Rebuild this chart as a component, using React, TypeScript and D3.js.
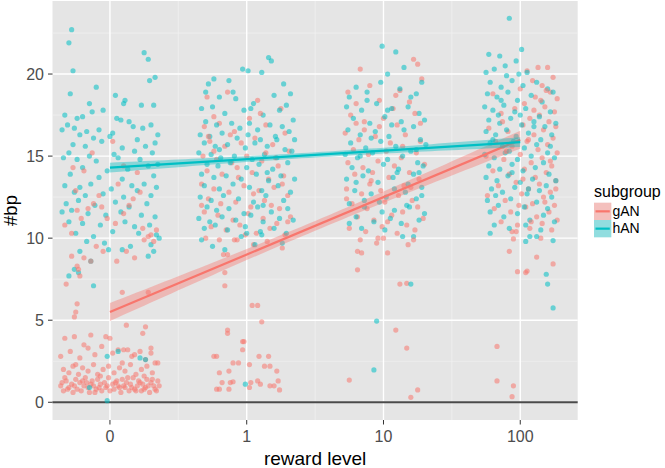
import React from 'react';
import * as d3 from 'd3';

const categories = ['0', '1', '10', '100'];
const yTicks = [0, 5, 10, 15, 20];
const yMinor = [2.5, 7.5, 12.5, 17.5, 22.5];
const xMinor = [0.5, 1.5, 2.5];
const subgroups = ['gAN', 'hAN'];
const colors = ['#F8766D', '#00BFC4'];

// jittered points, flat pairs: (jitter offset in 1/100 of a category step, #bp)
const gAN_0 = [
  -36, 1.0, -34, 0.7, -32, 1.3, -30, 0.9, -28, 1.1, -27, 0.6, -25, 1.4, -24, 0.8, -22, 1.2, -21, 0.7, -19, 1.0, -18, 1.5,
  -16, 0.9, -15, 0.6, -13, 1.3, -12, 1.0, -10, 0.8, -9, 1.4, -7, 1.1, -6, 0.7, -4, 1.2, -3, 0.9, -1, 1.5, 0, 0.7, 2, 1.1,
  3, 0.8, 5, 1.3, 6, 1.0, 8, 0.6, 9, 1.4, 11, 0.9, 12, 1.2, 14, 0.7, 15, 1.1, 17, 1.5, 18, 0.8, 20, 1.0, 21, 1.3, 23, 0.7,
  24, 1.1, 26, 0.9, 27, 1.4, 29, 0.6, 30, 1.2, 32, 1.0, 33, 0.8, 35, 1.3, 36, 1.0, -35, 1.2, -31, 0.8, -26, 1.0, -20, 1.3,
  -14, 1.1, -8, 0.9, -2, 1.0, 4, 1.2, 10, 1.0, 16, 0.9, 22, 1.2, 28, 1.0, 34, 0.7, -33, 1.5, -17, 1.2, 7, 0.9, 19, 0.7,
  31, 1.4, -11, 0.6, 13, 1.5, 25, 0.8,
  -34, 2.0, -30, 1.8, -27, 2.2, -23, 1.7, -20, 2.1, -16, 1.9, -12, 2.3, -9, 1.7, -5, 2.0, -1, 2.2, 3, 1.8, 7, 2.1, 11, 1.9,
  15, 2.3, 19, 1.7, 23, 2.0, 27, 2.2, 31, 1.8, 35, 2.4, -25, 2.3, -7, 1.6, 9, 2.4, 25, 1.6,
  -36, 2.8, -33, 3.9, -29, 3.1, -26, 4.0, -22, 2.7, -19, 3.5, -14, 4.1, -11, 2.9, -6, 3.4, -3, 4.0, 2, 3.0, 6, 3.2, 10, 3.2,
  13, 3.2, 18, 2.9, 22, 3.1, 26, 2.6, 30, 3.0, 33, 2.4, 16, 2.8, -16, 3.3, 0, 3.9,
  -24, 6.0, -25, 5.5, -26, 5.2, 28, 6.7, 9, 6.7, 12, 4.7, 26, 4.6, 24, 4.2, 30, 3.3,
  -32, 7.2, -28, 8.9, -24, 8.3, -23, 8.1, -19, 8.8, -14, 8.6, -10, 9.5, -5, 9.2, -22, 7.7, 5, 8.6, 12, 9.2, 18, 8.8,
  25, 9.9, 28, 10.1, 32, 9.8,
  -33, 10.8, -28, 10.3, -21, 11.2, -16, 11.8, -12, 12.1, -6, 11.9, -2, 11.2, 4, 10.9, 10, 11.5, 17, 12.4, 24, 10.6,
  30, 10.2, -25, 12.9, -8, 12.6, 14, 12.0, -27, 14.3, -19, 14.1, 20, 14.0, 10, 14.4, 2, 15.9, -13, 15.2, 6, 13.3,
  -24, 11.7, 22, 12.8, 34, 10.5,
];
const hAN_0 = [
  -28, 22.7, -30, 21.9, 25, 21.3, 28, 20.9, -27, 20.2, 33, 19.8, 29, 19.6, -10, 19.2, -29, 18.8, 4, 18.7, 11, 18.4,
  -15, 18.2, 23, 18.1, 32, 18.1, 10, 18.2, -33, 17.5, -24, 17.3, -20, 17.4, -13, 17.7, -5, 17.8, 5, 17.3, 8, 17.2,
  14, 17.1, -31, 16.9, -26, 16.7, -17, 16.5, -8, 16.6, 2, 16.4, 17, 16.8, 24, 16.7, 30, 16.9, 35, 16.3, -35, 16.6,
  -22, 16.3, -12, 16.1, 0, 16.2, 20, 16.0, 33, 15.8, -27, 15.7, -18, 15.6, -6, 15.9, 9, 15.5, 26, 15.6, -30, 15.2,
  -15, 15.0, 3, 15.1, 18, 15.3, 31, 15.2, -34, 14.9, -24, 14.8, -10, 14.7, 6, 14.9, 22, 14.8, 35, 14.5, -20, 14.3,
  -2, 14.1, 13, 14.2, 28, 14.4, -29, 13.9, -8, 13.7, 9, 13.6, 32, 13.8, -33, 13.2, -22, 13.1, -14, 13.3, 1, 13.0,
  16, 13.2, 25, 13.3, 34, 13.1, -26, 12.8, -18, 12.6, -5, 12.7, 10, 12.5, 20, 12.9, 30, 12.6, -32, 12.1, -23, 12.3,
  -11, 12.0, 4, 12.2, 14, 11.9, 27, 12.1, -35, 11.6, -28, 11.7, -16, 11.5, -3, 11.4, 8, 11.6, 23, 11.4, 33, 11.3,
  -30, 11.0, -20, 10.9, -7, 10.8, 11, 11.0, 18, 10.7, 29, 10.8, -25, 10.3, -12, 10.1, 2, 10.4, 21, 10.3, 34, 10.2,
  36, 10.0, -17, 9.8, -4, 9.7, 15, 9.5, 30, 9.6, -1, 9.3, 9, 9.3, -22, 9.2, -14, 8.6, 28, 8.9, 32, 9.2, -30, 7.7,
  -23, 7.9, -12, 7.1, -26, 8.1, 6, 3.1, 22, 2.7, 26, 2.6, -15, 0.9, -2, 0.1, -2, 2.8,
];
const gAN_1 = [
  -29, 18.6, -24, 17.4, -14, 18.9, 8, 18.4, 25, 17.9, -31, 16.8, -20, 17.0, -9, 16.5, 2, 17.3, 14, 16.9, 28, 16.4,
  -27, 15.9, -16, 15.6, -4, 15.8, 6, 16.1, 19, 15.7, 31, 15.3, -32, 15.0, -22, 14.8, -11, 14.6, 0, 15.0, 11, 14.7,
  23, 14.4, -29, 14.1, -18, 13.9, -6, 13.7, 4, 14.0, 16, 13.6, 27, 13.8, -33, 13.3, -24, 13.0, -13, 12.8, -2, 13.2,
  9, 12.9, 20, 13.1, 30, 12.6, -28, 12.4, -19, 12.1, -8, 12.2, 3, 11.9, 13, 12.3, 24, 11.8, -31, 11.6, -21, 11.4,
  -10, 11.1, 1, 11.5, 12, 11.2, 22, 10.9, 32, 11.3, -26, 10.7, -15, 10.5, -5, 10.8, 7, 10.3, 17, 10.6, 28, 10.2,
  -30, 10.0, -20, 9.9, -9, 9.9, -7, 9.9, 5, 9.6, 15, 9.8, 26, 9.4, -14, 9.0, -17, 9.0, -16, 7.9, -16, 7.1, 4, 5.9,
  8, 5.9, 11, 4.9, -14, 4.4, -14, 4.2, -3, 3.7, -2, 3.7, -3, 3.2, -24, 2.8, -22, 2.8, 9, 2.8, 16, 2.8, -10, 2.4,
  -6, 2.4, 2, 2.3, 13, 2.2, 17, 2.2, -20, 1.8, -13, 1.9, 22, 1.9, -12, 1.2, -18, 1.2, 3, 1.2, 8, 1.3, 10, 1.1,
  20, 1.0, 23, 1.3, 24, 0.75, -22, 0.8, -20, 0.8, -13, 0.8, 2, 0.9, -10, 1.25, 17, 1.0, -28, 16.2, -7, 14.3, 18, 12.0,
  -24, 15.3, 10, 17.6, 26, 13.3, -1, 10.2, 21, 14.9, -12, 16.3, 30, 11.0, -33, 12.0, 5, 12.7, 14, 15.2,
];
const hAN_1 = [
  16, 21.0, 18, 20.8, -3, 20.3, 1, 20.2, 11, 20.1, -28, 19.4, -24, 19.7, -13, 19.6, 27, 19.4, 32, 18.8, -30, 18.9,
  -20, 18.6, -8, 18.5, 5, 18.2, 20, 18.7, 29, 18.1, -33, 17.9, -25, 18.0, -16, 17.6, -2, 17.8, 3, 17.9, 12, 17.5,
  24, 17.8, 34, 17.2, -30, 17.1, -22, 16.9, -11, 17.0, -5, 16.7, 8, 16.6, 17, 16.9, 26, 16.8, 31, 16.5, -34, 16.3,
  -27, 16.2, -18, 16.4, -7, 16.1, 1, 16.3, 10, 16.0, 21, 16.2, 35, 16.0, -31, 15.8, -23, 15.6, -14, 15.7, -1, 15.5,
  6, 15.8, 15, 15.6, 28, 15.4, -35, 15.2, -26, 15.1, -19, 14.9, -9, 15.0, 4, 14.8, 13, 15.1, 22, 14.9, 33, 15.3,
  -29, 14.5, -21, 14.4, -12, 14.6, 0, 14.3, 9, 14.5, 19, 14.2, 30, 14.6, -33, 13.9, -24, 13.7, -15, 13.8, -4, 13.6,
  7, 13.9, 16, 13.5, 25, 13.8, 35, 13.6, -31, 13.2, -20, 13.0, -10, 13.3, 2, 13.1, 11, 12.9, 23, 13.2, 32, 12.8,
  -34, 12.5, -26, 12.3, -17, 12.6, -6, 12.4, 5, 12.2, 14, 12.6, 27, 12.3, -29, 11.9, -22, 11.7, -13, 11.8, -2, 11.5,
  8, 11.9, 18, 11.6, 30, 11.8, -35, 11.2, -27, 11.0, -18, 11.3, -8, 11.1, 3, 11.4, 12, 11.0, 24, 11.2, 34, 11.1,
  -31, 10.6, -23, 10.8, -14, 10.5, -1, 10.7, 10, 10.4, 20, 10.6, 29, 10.3, -4, 10.1, 0, 10.3, 11, 10.2, -33, 9.9,
  6, 9.6, -25, 9.5, 26, 9.7, -16, 9.3, -1, 1.1, 15, 14.0, -20, 15.4, 2, 17.0, 22, 16.0, -10, 18.9, 12, 12.0,
];
const gAN_10 = [
  -17, 20.3, 22, 20.9, 25, 20.6, -26, 18.9, -10, 19.3, 12, 19.0, 28, 19.7, -20, 18.2, -3, 18.4, 7, 17.9, 19, 18.3,
  -24, 17.5, -14, 17.1, 0, 17.3, 10, 16.9, 23, 17.6, -28, 16.4, -18, 16.0, -6, 16.2, 5, 15.8, 16, 16.3, 27, 15.9,
  -22, 15.4, -11, 15.1, 2, 15.3, 13, 14.9, 24, 15.2, -26, 14.6, -15, 14.3, -4, 14.7, 8, 14.4, 19, 14.0, 30, 14.5,
  -21, 13.9, -9, 13.5, 4, 13.7, 15, 13.2, 26, 13.6, -27, 13.0, -16, 12.7, -2, 12.9, 11, 12.6, 21, 12.3, -23, 12.1,
  -12, 11.8, 1, 12.2, 14, 11.6, 25, 11.9, -19, 11.3, -7, 11.1, 6, 11.4, 17, 10.8, 29, 11.2, -25, 10.6, -13, 10.4,
  -1, 10.7, 10, 10.3, 23, 10.5, -17, 9.9, -4, 10.0, 0, 10.0, 18, 9.6, -19, 9.2, -16, 9.1, 3, 9.1, -5, 9.7, -19, 8.07,
  12, 7.2, 17, 7.25, 9, 4.4, 17, 3.3, -25, 1.35, 20, 0.3, 25, 0.75, -20, 17.0, 9, 18.7, -8, 14.0, 20, 13.1, -14, 16.6,
  3, 11.0, 27, 17.0, -27, 12.4, 14, 15.6, -3, 16.8, 22, 9.9, -10, 13.3,
];
const hAN_10 = [
  -1, 21.7, 9, 21.35, 3, 20.0, -20, 19.2, -25, 18.6, -12, 18.9, 12, 19.1, 24, 18.8, 28, 19.5, -27, 18.0, -16, 17.8,
  -5, 18.2, 6, 17.9, 18, 18.0, 26, 17.6, -22, 17.3, -10, 17.0, 1, 17.4, 13, 17.1, 22, 16.8, 30, 17.2, -26, 16.6,
  -17, 16.3, -6, 16.5, 4, 16.2, 15, 16.6, 27, 16.0, -24, 15.8, -13, 15.5, -2, 15.9, 9, 15.6, 20, 15.3, 31, 15.7,
  -28, 15.1, -19, 14.9, -8, 15.2, 3, 14.8, 14, 15.0, 25, 14.6, -23, 14.3, -11, 14.1, 0, 14.5, 11, 14.2, 22, 13.9,
  29, 14.4, -27, 13.6, -15, 13.8, -4, 13.4, 7, 13.7, 18, 13.3, 28, 13.1, -21, 12.9, -9, 12.7, 2, 12.5, 16, 12.8,
  24, 12.4, -25, 12.1, -14, 11.9, -3, 12.2, 8, 11.7, 19, 11.9, 30, 11.5, -20, 11.3, -7, 11.0, 5, 11.2, 13, 10.9,
  26, 11.1, -16, 10.6, 1, 10.5, 14, 10.1, 22, 10.1, 20, 7.2, -5, 4.95, -7, 1.97, -12, 18.4, 6, 16.9, -20, 13.4,
  17, 12.0, -1, 11.6, 24, 15.4, -9, 16.1, 10, 14.0, -25, 10.9, 28, 12.6, -17, 15.0, 3, 17.8, 20, 18.6, -2, 19.5,
  15, 20.4, 8, 13.0, -14, 12.3, 26, 14.0,
];
const gAN_100 = [
  13, 20.4, 20, 20.4, 5, 20.2, 24, 19.8, 9, 19.6, 16, 19.3, 0, 19.1, 22, 18.9, 27, 18.5, -20, 18.8, 3, 18.2, 11, 18.6,
  18, 18.0, 25, 17.7, -14, 17.6, -4, 17.9, 7, 17.3, 14, 17.5, 21, 17.1, 26, 16.8, -23, 16.7, -9, 16.5, 2, 16.9,
  10, 16.3, 17, 16.6, 24, 16.1, -18, 15.9, -6, 15.6, 5, 15.9, 13, 15.4, 20, 15.7, 27, 15.2, -25, 15.0, -12, 14.8,
  0, 15.1, 8, 14.6, 16, 14.9, 23, 14.4, -20, 14.1, -8, 13.9, 3, 14.2, 11, 13.7, 19, 14.0, 26, 13.5, -16, 13.2,
  -3, 13.4, 6, 13.0, 14, 13.3, 22, 12.8, -24, 12.6, -11, 12.3, 1, 12.7, 9, 12.1, 17, 12.5, 25, 12.0, -19, 11.8,
  -7, 11.6, 4, 11.9, 12, 11.3, 21, 11.6, 27, 11.1, -14, 11.0, -2, 10.8, 7, 10.6, 16, 10.9, 23, 10.5, -6, 10.4,
  -3, 10.4, -5, 9.95, 15, 10.0, -8, 9.2, 12, 8.85, 24, 8.43, -2, 7.96, 4, 7.9, 5, 8.0, -17, 3.4, -17, 1.3, -5, 1.0,
  -6, 0.34, 10, 17.8, 18, 12.2, -10, 15.3, 6, 16.0, 22, 14.7, -1, 12.0, 15, 18.4, 26, 13.0, 8, 11.0, -13, 17.1,
  19, 19.0, 2, 13.6,
];
const hAN_100 = [
  -8, 23.4, -23, 21.2, -15, 21.1, -3, 20.8, -25, 20.1, -19, 20.3, -10, 19.9, -1, 20.0, 5, 20.1, -22, 19.5, -14, 19.2,
  -6, 19.6, 2, 19.3, 12, 19.5, 20, 19.1, -24, 18.8, -17, 18.6, -9, 18.9, -2, 18.4, 8, 18.7, 16, 18.3, 24, 18.9,
  -26, 18.0, -20, 17.8, -12, 18.1, -4, 17.7, 4, 17.9, 14, 17.4, 22, 17.7, -23, 17.2, -15, 17.0, -7, 17.3, 1, 16.9,
  10, 17.1, 18, 16.8, 26, 17.0, -25, 16.5, -18, 16.3, -10, 16.6, -3, 16.2, 6, 16.4, 15, 16.0, 23, 16.3, -22, 15.8,
  -13, 15.6, -5, 15.9, 3, 15.5, 12, 15.7, 20, 15.2, -26, 15.1, -19, 14.9, -11, 15.2, -2, 14.8, 8, 15.0, 17, 14.6,
  25, 14.9, -23, 14.4, -15, 14.2, -6, 14.5, 2, 14.1, 11, 14.3, 21, 13.9, -25, 13.7, -17, 13.5, -9, 13.8, 0, 13.4,
  9, 13.6, 19, 13.2, 26, 13.5, -21, 13.0, -13, 12.8, -4, 13.1, 5, 12.7, 14, 12.9, 23, 12.5, -24, 12.3, -16, 12.0,
  -7, 12.4, 3, 11.9, 12, 12.2, 20, 11.8, -22, 11.6, -12, 11.3, -2, 11.5, 7, 11.1, 17, 11.4, 25, 11.0, -19, 10.8,
  -8, 10.6, 4, 10.8, 15, 10.5, -22, 10.3, 7, 10.1, 12, 10.1, 4, 9.8, 24, 9.85, 19, 7.8, 20, 7.2, 24, 5.75, -20, 16.0,
  -8, 15.3, 0, 17.5, -14, 18.4, 6, 13.0, -18, 12.6, 10, 16.8, -11, 20.5, 1, 21.5, -6, 14.0, 22, 15.6, -16, 17.5,
];

// linear fits (value at category index 0 and 3) and confidence half-widths (middle, ends)
const fitGAN = [5.5, 16.0];
const fitHAN = [14.3, 15.85];
const bandGAN = [0.3, 0.55];
const bandHAN = [0.16, 0.3];

const W = 665;
const H = 468;
const P = { left: 52.5, right: 577.7, top: 1, bottom: 420 };
const FONT = '"Liberation Sans", Arial, Helvetica, sans-serif';

type Pt = { x: number; y: number; g: number };

function toPoints(arr: number[], cat: number, g: number): Pt[] {
  const out: Pt[] = [];
  for (let i = 0; i < arr.length; i += 2) out.push({ x: cat + arr[i] / 100, y: arr[i + 1], g });
  return out;
}

export default function App() {
  const x = d3.scaleLinear().domain([-0.42, 3.42]).range([P.left, P.right]);
  const y = d3.scaleLinear().domain([-1.08, 24.45]).range([P.bottom, P.top]);

  const groups: [number[], number[]][] = [
    [gAN_0, hAN_0],
    [gAN_1, hAN_1],
    [gAN_10, hAN_10],
    [gAN_100, hAN_100],
  ];
  const pts: Pt[] = [];
  groups.forEach(([ga, ha], ci) => {
    const a = toPoints(ga, ci, 0);
    const b = toPoints(ha, ci, 1);
    const n = Math.max(a.length, b.length);
    for (let i = 0; i < n; i++) {
      if (i < a.length) pts.push(a[i]);
      if (i < b.length) pts.push(b[i]);
    }
  });

  const fits = [
    { fit: fitGAN, band: bandGAN },
    { fit: fitHAN, band: bandHAN },
  ];
  const xs = d3.range(0, 3.0001, 0.05);
  const smooth = fits.map(({ fit, band }) => {
    const f = (t: number) => fit[0] + ((fit[1] - fit[0]) * t) / 3;
    const hw = (t: number) => Math.sqrt(band[0] ** 2 + (band[1] ** 2 - band[0] ** 2) * ((t - 1.5) / 1.5) ** 2);
    const area = d3
      .area<number>()
      .x((t) => x(t))
      .y0((t) => y(f(t) - hw(t)))
      .y1((t) => y(f(t) + hw(t)))(xs) as string;
    const line = d3
      .line<number>()
      .x((t) => x(t))
      .y((t) => y(f(t)))([0, 3]) as string;
    return { area, line };
  });

  return (
    <svg width={W} height={H} style={{ position: 'absolute', left: 0, top: 0, background: '#fff' }} fontFamily={FONT}>
      <rect x={P.left} y={P.top} width={P.right - P.left} height={P.bottom - P.top} fill="#E5E5E5" />
      {yMinor.map((v) => (
        <line key={'ym' + v} x1={P.left} x2={P.right} y1={y(v)} y2={y(v)} stroke="#F2F2F2" strokeWidth={0.7} />
      ))}
      {xMinor.map((v) => (
        <line key={'xm' + v} y1={P.top} y2={P.bottom} x1={x(v)} x2={x(v)} stroke="#F2F2F2" strokeWidth={0.7} />
      ))}
      {yTicks.map((v) => (
        <line key={'yM' + v} x1={P.left} x2={P.right} y1={y(v)} y2={y(v)} stroke="#FFFFFF" strokeWidth={1.4} />
      ))}
      {categories.map((c, i) => (
        <line key={'xM' + c} y1={P.top} y2={P.bottom} x1={x(i)} x2={x(i)} stroke="#FFFFFF" strokeWidth={1.4} />
      ))}
      <line x1={P.left} x2={P.right} y1={y(0)} y2={y(0)} stroke="#4a4a4a" strokeWidth={1.8} />
      <g>
        {pts.map((p, i) => (
          <circle key={i} cx={x(p.x)} cy={y(p.y)} r={2.6} fill={colors[p.g]} fillOpacity={0.55} />
        ))}
      </g>
      {smooth.map((s, i) => (
        <g key={'s' + i}>
          <path d={s.area} fill={colors[i]} fillOpacity={0.4} />
          <path d={s.line} stroke={colors[i]} strokeWidth={2.2} fill="none" />
        </g>
      ))}
      {yTicks.map((v) => (
        <g key={'yt' + v}>
          <line x1={P.left - 4.5} x2={P.left} y1={y(v)} y2={y(v)} stroke="#333" strokeWidth={1} />
          <text x={P.left - 8.5} y={y(v)} dy="0.36em" textAnchor="end" fontSize={16} fill="#4D4D4D">
            {v}
          </text>
        </g>
      ))}
      {categories.map((c, i) => (
        <g key={'xt' + c}>
          <line y1={P.bottom} y2={P.bottom + 4.5} x1={x(i)} x2={x(i)} stroke="#333" strokeWidth={1} />
          <text x={x(i)} y={442} textAnchor="middle" fontSize={16} fill="#4D4D4D">
            {c}
          </text>
        </g>
      ))}
      <text x={(P.left + P.right) / 2} y={465} textAnchor="middle" fontSize={19} fill="#000">
        reward level
      </text>
      <text transform={`translate(17,${(P.top + P.bottom) / 2}) rotate(-90)`} textAnchor="middle" fontSize={18.5} fill="#000">
        #bp
      </text>
      <text x={594} y={197} fontSize={16} fill="#000">
        subgroup
      </text>
      {subgroups.map((s, i) => {
        const ky = 202.7 + i * 17.3;
        return (
          <g key={'lg' + s}>
            <rect x={594} y={ky} width={17.3} height={17.3} fill="#F2F2F2" />
            <rect x={594} y={ky} width={17.3} height={17.3} fill={colors[i]} fillOpacity={0.4} />
            <line x1={595.5} x2={609.8} y1={ky + 8.65} y2={ky + 8.65} stroke={colors[i]} strokeWidth={2.2} />
            <text x={612.5} y={ky + 13.3} fontSize={14} fill="#000">
              {s}
            </text>
          </g>
        );
      })}
    </svg>
  );
}
